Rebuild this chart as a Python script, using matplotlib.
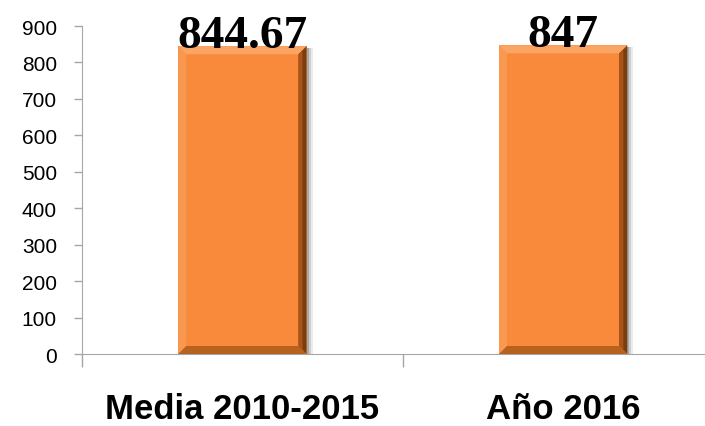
import matplotlib
matplotlib.use("Agg")
import matplotlib.pyplot as plt
from matplotlib.patches import Polygon, Rectangle

categories = ["Media 2010-2015", "Año 2016"]
values = [844.67, 847]
value_labels = ["844.67", "847"]
yticks = [0, 100, 200, 300, 400, 500, 600, 700, 800, 900]

bar_color = "#F98A3C"
axis_gray = "#A6A6A6"

fig = plt.figure(figsize=(7.05, 4.27), dpi=100)
ax = fig.add_axes([0.1163, 0.1686, 0.91, 0.7681])

x = list(range(len(categories)))
bars = ax.bar(x, values, width=0.4, color=bar_color, zorder=3)

ax.set_xlim(-0.5, 1.5)
ax.set_ylim(0, 900)

# pixel -> data unit sizes for the bevel
fig.canvas.draw()
bb = ax.get_window_extent()
px_x = 2.0 / bb.width
px_y = 900.0 / bb.height
bev_x = 8 * px_x
bev_y = 8 * px_y

for b in bars:
    x0, w, h = b.get_x(), b.get_width(), b.get_height()
    x1 = x0 + w
    # soft shadow on the right
    for k, a in zip([6, 4, 2], [0.08, 0.12, 0.18]):
        ax.add_patch(Rectangle((x0 + k * px_x, -2 * px_y), w, h, color="black",
                               alpha=a, lw=0, zorder=2))
    top = Polygon([(x0, h), (x1, h), (x1 - bev_x, h - bev_y), (x0 + bev_x, h - bev_y)],
                  closed=True, color="#FBA565", lw=0, zorder=4)
    left = Polygon([(x0, h), (x0 + bev_x, h - bev_y), (x0 + bev_x, bev_y), (x0, 0)],
                   closed=True, color="#F99850", lw=0, zorder=4)
    right = Polygon([(x1, h), (x1 - bev_x, h - bev_y), (x1 - bev_x, bev_y), (x1, 0)],
                    closed=True, color="#7A3D12", lw=0, zorder=4)
    bottom = Polygon([(x0, 0), (x1, 0), (x1 - bev_x, bev_y), (x0 + bev_x, bev_y)],
                     closed=True, color="#B8621F", lw=0, zorder=4)
    for p in (top, left, right, bottom):
        ax.add_patch(p)
    # softer inner edge on the right bevel
    ax.add_patch(Polygon([(x1 - bev_x, h - bev_y), (x1 - bev_x * 0.5, h - bev_y * 0.5),
                          (x1 - bev_x * 0.5, bev_y * 0.5), (x1 - bev_x, bev_y)],
                         closed=True, color="#A85418", lw=0, zorder=4))

for xi, v, lab in zip(x, values, value_labels):
    ax.text(xi, v - 3, lab, ha="center", va="baseline", fontsize=34,
            fontweight="bold", family="Liberation Serif", color="black", zorder=5)

for s in ["top", "right"]:
    ax.spines[s].set_visible(False)
ax.spines["left"].set_color(axis_gray)
ax.spines["bottom"].set_color(axis_gray)
ax.spines["left"].set_zorder(1)
ax.spines["bottom"].set_zorder(1)

ax.set_yticks(yticks)
ax.set_yticklabels([str(t) for t in yticks], fontsize=15, family="Liberation Sans")
ax.tick_params(axis="y", length=6, color=axis_gray, pad=12, width=1)

ax.set_xticks(x)
ax.set_xticklabels(categories, fontsize=25, fontweight="bold", family="Liberation Sans")
ax.set_xticks([-0.5, 0.5, 1.5], minor=True)
ax.tick_params(axis="x", which="major", length=0, pad=27)
ax.tick_params(axis="x", which="minor", length=9, color=axis_gray, width=1)

fig.savefig("out.png", dpi=100)
